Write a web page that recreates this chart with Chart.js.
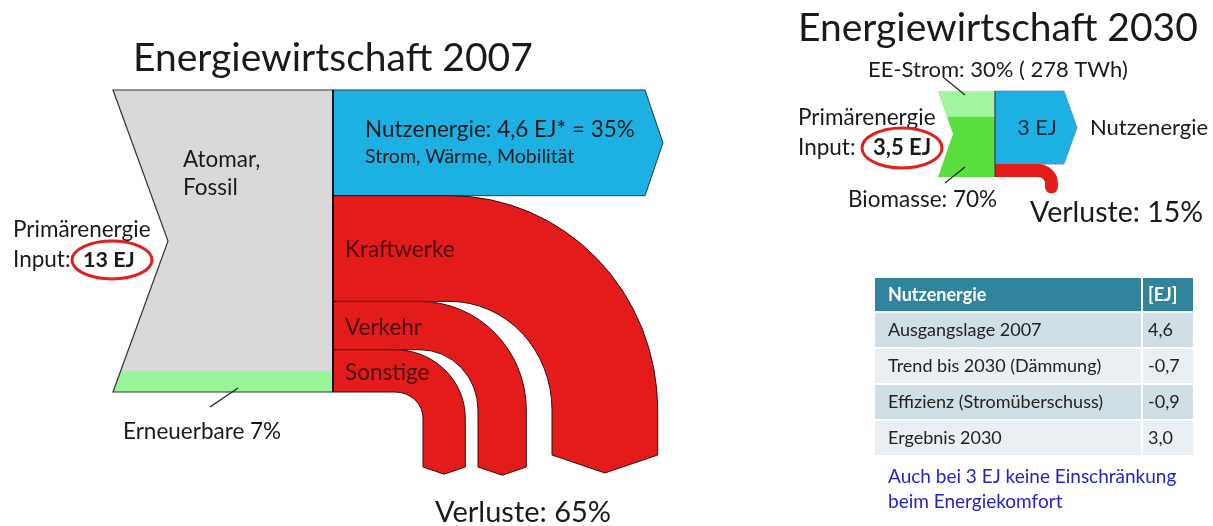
<!DOCTYPE html>
<html>
<head>
<meta charset="utf-8">
<script src="https://cdn.jsdelivr.net/npm/chart.js@4.4.1/dist/chart.umd.min.js"></script>
<style>
  html, body { margin: 0; padding: 0; background: #fff; }
  #wrap { width: 1213px; height: 526px; position: relative; }
</style>
</head>
<body>
<div id="wrap"><canvas id="chart"></canvas></div>
<script>
// --- data (percent of primary energy input) ---
const inputs2007 = ["Atomar, Fossil", "Erneuerbare"];
const inputShares2007 = [93, 7];
const outputs2007 = ["Nutzenergie", "Kraftwerke", "Verkehr", "Sonstige"];
const outputShares2007 = [35, 35, 16, 14];

const inputs2030 = ["EE-Strom", "Biomasse"];
const inputShares2030 = [30, 70];
const outputs2030 = ["Nutzenergie", "Verluste"];
const outputShares2030 = [85, 15];

const tableHeader = ["Nutzenergie", "[EJ]"];
const tableRows = ["Ausgangslage 2007", "Trend bis 2030 (Dämmung)", "Effizienz (Stromüberschuss)", "Ergebnis 2030"];
const tableValues = [4.6, -0.7, -0.9, 3.0];

// --- layout ---
const W = 1213, H = 526;
const FONT = "Lato, 'Open Sans', sans-serif";
const TOP07 = 90, BOT07 = 392;     // pixel span of 100% in 2007 diagram
const TOP30 = 91, BOT30 = 177;     // pixel span of 100% in 2030 diagram

function spanScale(top, bot) {
  const k = (bot - top) / 100;
  return { min: -(H - bot) / k, max: 100 + top / k };
}

// bend geometry for the loss bands (x of inner vertical edge, bend centre, end)
const lossLayout = [
  { cx: 450, cy: 410, xi: 552, yEnd: 455 },
  { cx: 420, cy: 410, xi: 478, yEnd: 467 },
  { cx: 395, cy: 418, xi: 423, yEnd: 467 }
];

const C = {
  gray: "#D9D9D9", green: "#99F599", blue: "#1CB0E3", red: "#E31B1B",
  line: "#333", lightGreen: "#A2F59E", green30: "#5BDF3C",
  teal: "#31849B", rowDark: "#D0DEE5", rowLight: "#E9EFF2", note: "#2424C4"
};

const M = 22.5;   // main label size

function txt(ctx, s, x, y, size, opt) {
  opt = opt || {};
  ctx.save();
  ctx.font = (opt.bold ? "bold " : "") + size + "px " + FONT;
  ctx.fillStyle = opt.color || "#1a1a1a";
  ctx.textAlign = opt.align || "left";
  ctx.textBaseline = "middle";
  ctx.fillText(s, x, y);
  ctx.restore();
}

function line(ctx, x1, y1, x2, y2, color, w) {
  ctx.save();
  ctx.strokeStyle = color; ctx.lineWidth = w;
  ctx.beginPath(); ctx.moveTo(x1, y1); ctx.lineTo(x2, y2); ctx.stroke();
  ctx.restore();
}

function ring(ctx, cx, cy, rx, ry) {
  ctx.save();
  ctx.strokeStyle = "#E0201C"; ctx.lineWidth = 3;
  ctx.beginPath(); ctx.ellipse(cx, cy, rx, ry, 0, 0, Math.PI * 2); ctx.stroke();
  ctx.restore();
}

// band leaving x0 horizontally between t and b, bending down
function bendPath(ctx, x0, t, b, cx, cy, xi, yEnd, cap) {
  const w = b - t;
  const xo = xi + w;
  ctx.beginPath();
  ctx.moveTo(x0, t);
  ctx.lineTo(cx, t);
  ctx.ellipse(cx, cy, xo - cx, cy - t, 0, -Math.PI / 2, 0);
  ctx.lineTo(xo, yEnd);
  if (cap === "round") {
    ctx.arc(xi + w / 2, yEnd, w / 2, 0, Math.PI);
  } else {
    ctx.lineTo(xi + w / 2, yEnd + w * 0.17);
    ctx.lineTo(xi, yEnd);
  }
  ctx.lineTo(xi, cy);
  ctx.ellipse(cx, cy, xi - cx, cy - b, 0, 0, -Math.PI / 2, true);
  ctx.lineTo(x0, b);
  ctx.closePath();
}

function cumulative(arr) {
  const out = [100];
  arr.forEach(v => out.push(out[out.length - 1] - v));
  return out;
}

const flowPlugin = {
  id: "flows",
  afterDraw(chart) {
    const ctx = chart.ctx;
    const x = chart.scales.x, y07 = chart.scales.y07, y30 = chart.scales.y30;
    const px = v => x.getPixelForValue(v);

    // ===== 2007 =====
    txt(ctx, "Energiewirtschaft 2007", px(133), 58, 39);

    const yTop = y07.getPixelForValue(100), yBot = y07.getPixelForValue(0);
    const yMid = y07.getPixelForValue(50);
    const xl = px(113), xn = px(168), xs = px(333);

    // input block (gray with notch) + renewable share
    ctx.save();
    ctx.beginPath();
    ctx.moveTo(xl, yTop); ctx.lineTo(xs, yTop); ctx.lineTo(xs, yBot);
    ctx.lineTo(xl, yBot); ctx.lineTo(xn, yMid); ctx.closePath();
    ctx.fillStyle = C.gray; ctx.fill();
    ctx.save();
    ctx.clip();
    const yRe = y07.getPixelForValue(inputShares2007[1]);
    ctx.fillStyle = C.green;
    ctx.fillRect(xl - 5, yRe, xs - xl + 10, yBot - yRe);
    ctx.restore();
    ctx.strokeStyle = C.line; ctx.lineWidth = 1.2; ctx.stroke();
    ctx.restore();

    // outputs
    const cum = cumulative(outputShares2007).map(v => y07.getPixelForValue(v));
    // useful energy arrow
    ctx.save();
    ctx.beginPath();
    ctx.moveTo(xs, cum[0]); ctx.lineTo(px(645), cum[0]);
    ctx.lineTo(px(663), (cum[0] + cum[1]) / 2);
    ctx.lineTo(px(645), cum[1]); ctx.lineTo(xs, cum[1]); ctx.closePath();
    ctx.fillStyle = C.blue; ctx.fill();
    ctx.strokeStyle = C.line; ctx.lineWidth = 1; ctx.stroke();
    ctx.restore();

    // losses
    lossLayout.forEach((L, i) => {
      ctx.save();
      bendPath(ctx, xs, cum[i + 1], cum[i + 2], px(L.cx), L.cy, px(L.xi), L.yEnd, "chevron");
      ctx.fillStyle = C.red; ctx.fill();
      ctx.strokeStyle = "#3a0a0a"; ctx.lineWidth = 1; ctx.stroke();
      ctx.restore();
    });

    line(ctx, xs, yTop, xs, yBot, "#111", 2);

    txt(ctx, "Atomar,", px(183), 160, M);
    txt(ctx, "Fossil", px(183), 188, M);
    txt(ctx, "Primärenergie", px(13), 230, M);
    txt(ctx, "Input:", px(13), 260, M);
    txt(ctx, "13 EJ", px(83), 260, 21.5, { bold: true });
    ring(ctx, px(112), 260, 40, 19);

    txt(ctx, "Nutzenergie: 4,6 EJ* = " + outputShares2007[0] + "%", px(365), 130, M);
    txt(ctx, "Strom, Wärme, Mobilität", px(365), 157, 19.5);
    const lossLabelY = [250, 328, 373];
    outputs2007.slice(1).forEach((s, i) => txt(ctx, s, px(345), lossLabelY[i], M, { color: "#4a0c0c" }));

    line(ctx, px(210), 407, px(238), 388, "#222", 1.3);
    txt(ctx, inputs2007[1] + " " + inputShares2007[1] + "%", px(123), 432, M);
    const loss07 = outputShares2007.slice(1).reduce((a, b) => a + b, 0);
    txt(ctx, "Verluste: " + loss07 + "%", px(435), 513, 29);

    // ===== 2030 =====
    txt(ctx, "Energiewirtschaft 2030", px(798), 28, 39);
    const t30 = y30.getPixelForValue(100), b30 = y30.getPixelForValue(0), m30 = y30.getPixelForValue(50);
    const gl = px(938), gn = px(953), gs = px(995);
    ctx.save();
    ctx.beginPath();
    ctx.moveTo(gl, t30); ctx.lineTo(gs, t30); ctx.lineTo(gs, b30);
    ctx.lineTo(gl, b30); ctx.lineTo(gn, m30); ctx.closePath();
    ctx.fillStyle = C.green30; ctx.fill();
    ctx.clip();
    const yEE = y30.getPixelForValue(100 - inputShares2030[0]);
    ctx.fillStyle = C.lightGreen;
    ctx.fillRect(gl - 5, t30, gs - gl + 10, yEE - t30);
    ctx.restore();

    const c30 = cumulative(outputShares2030).map(v => y30.getPixelForValue(v));
    ctx.save();
    ctx.beginPath();
    ctx.moveTo(gs, c30[0]); ctx.lineTo(px(1064), c30[0]);
    ctx.lineTo(px(1077), (c30[0] + c30[1]) / 2);
    ctx.lineTo(px(1064), c30[1]); ctx.lineTo(gs, c30[1]); ctx.closePath();
    ctx.fillStyle = C.blue; ctx.fill();
    ctx.strokeStyle = "#5a8fa8"; ctx.lineWidth = 0.8; ctx.stroke();
    ctx.restore();

    ctx.save();
    bendPath(ctx, gs, c30[1], c30[2], px(1038), 183, px(1045), 187, "round");
    ctx.fillStyle = C.red; ctx.fill();
    ctx.restore();
    line(ctx, gs, t30, gs, b30, "#333", 1);

    txt(ctx, inputs2030[0] + ": " + inputShares2030[0] + "% ( 278 TWh)", px(868), 70, 22);
    line(ctx, px(943), 77, px(965), 95, "#222", 1.2);
    txt(ctx, "Primärenergie", px(798), 118, M);
    txt(ctx, "Input:", px(798), 148, M);
    txt(ctx, "3,5 EJ", px(873), 148, 22, { bold: true });
    ring(ctx, px(902), 148, 40, 20);
    txt(ctx, "3 EJ", px(1037), 128, 21.5, { align: "center", color: "#0d2a3e" });
    txt(ctx, outputs2030[0], px(1090), 128, 22);
    line(ctx, px(945), 183, px(965), 167, "#222", 1.2);
    txt(ctx, inputs2030[1] + ": " + inputShares2030[1] + "%", px(848), 200, M);
    txt(ctx, outputs2030[1] + ": " + outputShares2030[1] + "%", px(1030), 213, 28.5);

    // ===== table =====
    const tl = px(875), tr = px(1193), td = px(1142);
    ctx.save();
    ctx.fillStyle = C.teal;
    ctx.fillRect(tl, 278, tr - tl, 33);
    ctx.fillStyle = "#fff";
    ctx.fillRect(td - 1, 278, 2, 33);
    tableRows.forEach((r, i) => {
      const top = 313 + i * 36;
      ctx.fillStyle = i % 2 === 0 ? C.rowDark : C.rowLight;
      ctx.fillRect(tl, top, tr - tl, 34);
      ctx.fillStyle = "#fff";
      ctx.fillRect(td - 1, top, 2, 34);
    });
    ctx.restore();
    txt(ctx, tableHeader[0], px(888), 295, 18, { bold: true, color: "#fff" });
    txt(ctx, tableHeader[1], px(1148), 295, 18, { bold: true, color: "#fff" });
    tableRows.forEach((r, i) => {
      const cy = 313 + i * 36 + 17;
      txt(ctx, r, px(888), cy, 18, { color: "#222" });
      txt(ctx, tableValues[i].toFixed(1).replace(".", ","), px(1148), cy, 18, { color: "#222" });
    });
    txt(ctx, "Auch bei 3 EJ keine Einschränkung", px(888), 477, 19, { color: C.note });
    txt(ctx, "beim Energiekomfort", px(888), 502, 19, { color: C.note });
  }
};

const s07 = spanScale(TOP07, BOT07);
const s30 = spanScale(TOP30, BOT30);

new Chart(document.getElementById("chart"), {
  type: "scatter",
  data: { datasets: [] },
  options: {
    responsive: true,
    maintainAspectRatio: false,
    animation: false,
    layout: { padding: 0 },
    plugins: { legend: { display: false }, tooltip: { enabled: false } },
    scales: {
      x: { type: "linear", display: false, min: 0, max: W },
      y07: { type: "linear", axis: "y", display: false, min: s07.min, max: s07.max },
      y30: { type: "linear", axis: "y", display: false, min: s30.min, max: s30.max }
    }
  },
  plugins: [flowPlugin]
});
</script>
</body>
</html>
